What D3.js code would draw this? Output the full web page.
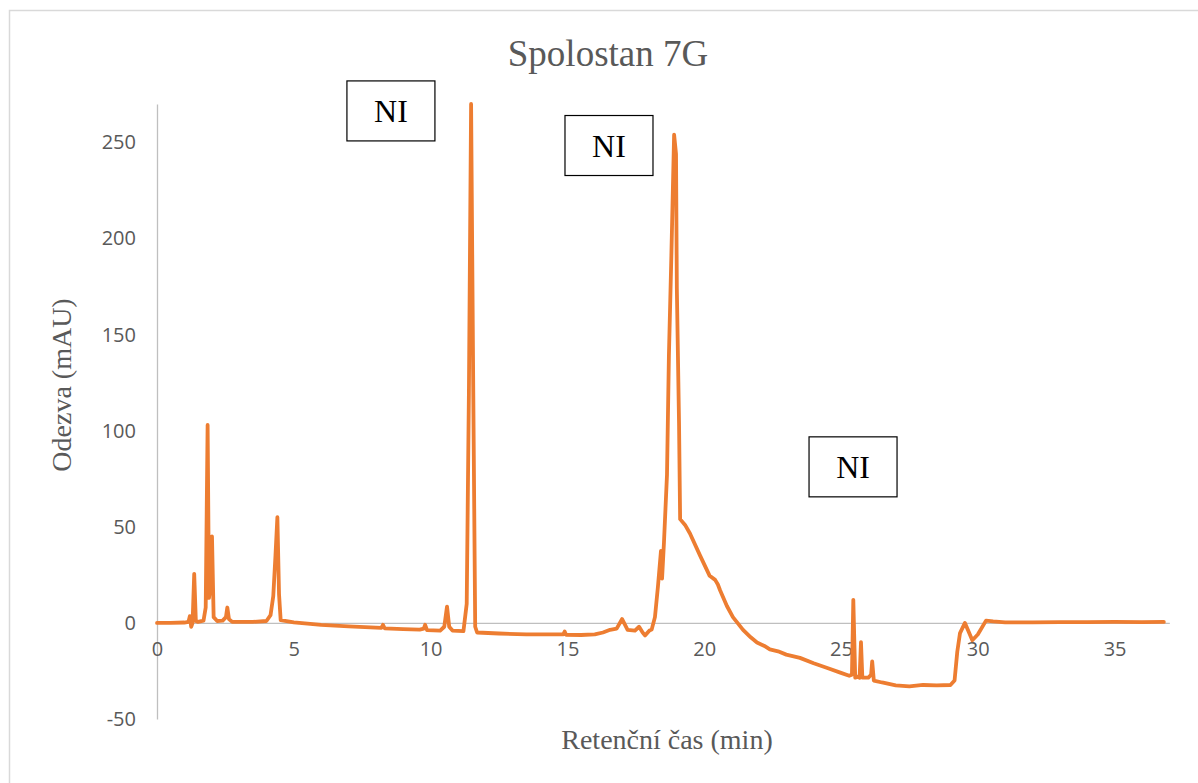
<!DOCTYPE html>
<html>
<head>
<meta charset="utf-8">
<script src="https://cdn.jsdelivr.net/npm/d3@7"></script>
<style>
  html, body { margin: 0; padding: 0; background: #fff; }
  svg { display: block; }
</style>
</head>
<body>
<svg id="chart" width="1198" height="783"></svg>
<script>
// ---- data ----
const retentionTime = [
  0, 0.5, 1.0, 1.15, 1.2, 1.25, 1.3, 1.36, 1.42, 1.5, 1.7, 1.78, 1.85, 1.9, 1.96, 2.01, 2.07,
  2.2, 2.4, 2.52, 2.57, 2.63, 2.75, 3.5, 4.0, 4.15, 4.25, 4.33, 4.4, 4.46, 4.52, 5.0, 6.0,
  7.0, 8.0, 8.2, 8.26, 8.32, 9.0, 9.6, 9.75, 9.8, 9.87, 10.35, 10.5, 10.6, 10.68, 10.8,
  11.2, 11.32, 11.4, 11.48, 11.56, 11.63, 11.7, 12.5, 13.5, 14.5, 14.85, 14.9, 14.95, 15.5,
  16.0, 16.3, 16.56, 16.8, 17.0, 17.2, 17.47, 17.62, 17.75, 17.84, 18.0, 18.08, 18.2, 18.31,
  18.42, 18.46, 18.53, 18.64, 18.71, 18.8, 18.9, 18.97, 19.0, 19.08, 19.12, 19.3, 19.48,
  19.85, 20.2, 20.4, 20.5, 20.58, 20.83, 21.05, 21.42, 21.7, 21.93, 22.2, 22.4, 22.7, 23.0,
  23.5, 24.0, 24.5, 25.0, 25.3, 25.4, 25.45, 25.52, 25.6, 25.68, 25.73, 25.78, 26.0, 26.1,
  26.14, 26.2, 26.5, 27.0, 27.5, 28.0, 28.5, 29.0, 29.15, 29.25, 29.35, 29.53, 29.8, 30.0,
  30.3, 30.56, 31.0, 32.0, 33.0, 34.0, 35.0, 36.0, 36.8
];
const response = [
  0, 0, 0.2, 0.5, 3.5, -2, 0, 25.5, 1, 0.5, 1.2, 8, 103, 13, 20, 45, 3,
  1, 1.2, 3, 8, 2, 0.5, 0.5, 1, 4, 14, 35, 55, 15, 1.5, 0.3, -1,
  -1.8, -2.5, -2.6, -1, -2.8, -3.2, -3.5, -3, -1, -3.8, -4, -2, 8.5, -2, -4,
  -4.3, 10, 120, 270, 120, -2, -5, -5.5, -6, -6, -6, -4.5, -6.2, -6.3,
  -6, -5, -3.6, -3, 2, -3.6, -4, -2, -5, -6.5, -4, -3.5, 3, 19,
  37.5, 23, 42, 77, 139, 191, 254, 244, 174, 104, 54, 51, 46.5,
  35, 24.5, 22.4, 20, 17, 8.8, 3, -3.6, -7.5, -10.2, -12, -13.8, -14.8, -16.5,
  -18.2, -21, -23.5, -26, -27.5, -27, 12, -28.5, -28, -28.5, -10, -28.5, -28.5, -27,
  -20, -30, -31, -32.5, -33, -32.3, -32.5, -32.3, -30, -15, -5.3, 0, -9, -6,
  1.2, 0.8, 0.3, 0.3, 0.4, 0.4, 0.5, 0.4, 0.5
];
const xTicks = [0, 5, 10, 15, 20, 25, 30, 35];
const yTicks = [-50, 0, 50, 100, 150, 200, 250];
const niLabels = ["NI", "NI", "NI"];
const niTime = [8.55, 16.52, 25.44];
const niResp = [266.4, 248.4, 81.2];

const chartTitle = "Spolostan 7G";
const yTitle = "Odezva (mAU)";
const xTitle = "Retenční  čas (min)";

// ---- drawing ----
const svg = d3.select("#chart");
const x = d3.scaleLinear().domain([0, 37]).range([157, 157 + 37 * 27.36]);
const y = d3.scaleLinear().domain([-50, 270]).range([719, 104]);

const gray = "#595959";
const axisColor = "#BFBFBF";

// chart outer border
svg.append("rect")
  .attr("x", 9.5).attr("y", 10.5)
  .attr("width", 1250).attr("height", 900)
  .attr("fill", "none").attr("stroke", "#D9D9D9").attr("stroke-width", 1.5);

// title
svg.append("text")
  .attr("x", 608).attr("y", 66)
  .attr("text-anchor", "middle")
  .attr("font-family", "'Liberation Serif', 'Times New Roman', serif")
  .attr("font-size", 37).attr("fill", gray)
  .text(chartTitle);

// y axis (vertical line, no ticks)
const yAxis = d3.axisLeft(y).tickValues(yTicks).tickSize(0).tickPadding(21)
  .tickFormat(d => String(d));
const gy = svg.append("g").attr("transform", `translate(${x(0)},0)`).call(yAxis);
gy.select(".domain").attr("stroke", axisColor).attr("stroke-width", 1.3);
gy.selectAll("text")
  .attr("font-family", "'Open Sans', sans-serif").attr("font-size", 20)
  .attr("fill", gray);

// x axis along zero line
const xAxis = d3.axisBottom(x).tickValues(xTicks).tickSize(0).tickPadding(19)
  .tickFormat(d => String(d));
const gx = svg.append("g").attr("transform", `translate(0,${y(0)})`).call(xAxis);
gx.select(".domain").attr("stroke", axisColor).attr("stroke-width", 1.3);
gx.selectAll("text")
  .attr("font-family", "'Open Sans', sans-serif").attr("font-size", 20)
  .attr("fill", gray);

// axis titles
svg.append("text")
  .attr("transform", `translate(71,385) rotate(-90)`)
  .attr("text-anchor", "middle")
  .attr("font-family", "'Liberation Serif', 'Times New Roman', serif")
  .attr("font-size", 28).attr("fill", gray)
  .text(yTitle);

svg.append("text")
  .attr("x", 667).attr("y", 749)
  .attr("text-anchor", "middle")
  .attr("font-family", "'Liberation Serif', 'Times New Roman', serif")
  .attr("font-size", 28).attr("fill", gray)
  .text(xTitle);

// trace
const pts = retentionTime.map((t, i) => [t, response[i]]);
svg.append("path")
  .datum(pts)
  .attr("fill", "none")
  .attr("stroke", "#ED7D31")
  .attr("stroke-width", 3.8)
  .attr("stroke-linejoin", "round")
  .attr("stroke-linecap", "round")
  .attr("d", d3.line().x(d => x(d[0])).y(d => y(d[1])));

// NI annotation boxes
const boxW = 88, boxH = 60;
const ni = svg.append("g").selectAll("g")
  .data(niLabels.map((l, i) => ({ l, t: niTime[i], v: niResp[i] })))
  .join("g")
  .attr("transform", d => `translate(${x(d.t)},${y(d.v)})`);
ni.append("rect")
  .attr("x", -boxW / 2).attr("y", -boxH / 2)
  .attr("width", boxW).attr("height", boxH)
  .attr("fill", "#fff").attr("stroke", "#000").attr("stroke-width", 1.2);
ni.append("text")
  .attr("text-anchor", "middle").attr("y", 11)
  .attr("font-family", "'Liberation Serif', 'Times New Roman', serif")
  .attr("font-size", 32).attr("fill", "#000")
  .text(d => d.l);
</script>
</body>
</html>
